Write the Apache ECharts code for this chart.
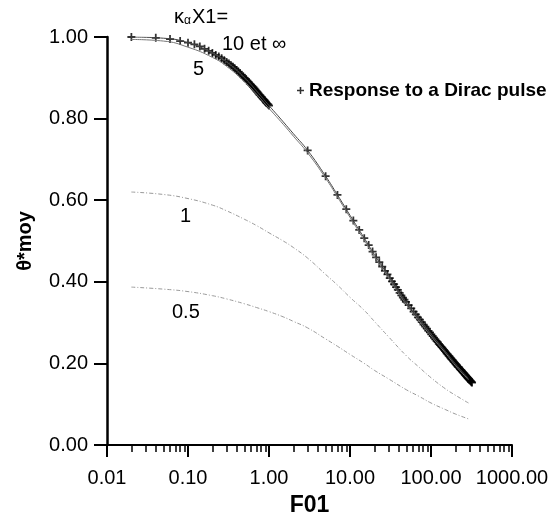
<!DOCTYPE html>
<html>
<head>
<meta charset="utf-8">
<script src="https://cdn.jsdelivr.net/npm/echarts@6/dist/echarts.min.js"></script>
<style>
  html, body { margin: 0; padding: 0; background: #fff; }
  #chart { width: 558px; height: 519px; }
</style>
</head>
<body>
<div id="chart"></div>
<script>
// Response to a Dirac pulse: sampled F01 values (markers)
const diracF = [
  0.02, 0.04, 0.06, 0.08, 0.10, 0.12, 0.14, 0.16, 0.18, 0.20,
  0.22, 0.24, 0.26, 0.28, 0.30, 0.32, 0.34, 0.36, 0.38, 0.40,
  0.42, 0.44, 0.46, 0.48, 0.50, 0.52, 0.54, 0.56, 0.58, 0.60,
  0.62, 0.64, 0.66, 0.68, 0.70, 0.72, 0.74, 0.76, 0.78, 0.80,
  0.82, 0.84, 0.86, 0.88, 0.90, 0.92, 0.94, 0.96, 0.98, 1.00,
  3, 5, 7, 9, 11, 13, 15, 17, 19, 21, 23, 25, 27, 29, 31, 33, 35, 37, 39, 41, 43, 45, 47, 49,
  53, 57, 61, 65, 69, 73, 77, 81, 85, 89, 93, 97, 101, 105, 109, 113, 117, 121, 125, 129,
  133, 137, 141, 145, 149, 153, 157, 161, 165, 169, 173, 177, 181, 185, 189, 193, 197, 201,
  205, 209, 213, 217, 221, 225, 229, 233, 237, 241, 245, 249, 253, 257, 261, 265, 269, 273,
  277, 281, 285, 289, 293, 297, 301, 305, 309, 313, 317, 321
];
const diracTheta = [
  1.000, 0.998, 0.995, 0.990, 0.986, 0.982, 0.977, 0.971, 0.966, 0.961,
  0.956, 0.952, 0.948, 0.943, 0.939, 0.935, 0.931, 0.927, 0.923, 0.919,
  0.915, 0.911, 0.907, 0.903, 0.900, 0.897, 0.893, 0.890, 0.886, 0.883,
  0.880, 0.877, 0.874, 0.871, 0.868, 0.865, 0.862, 0.859, 0.857, 0.854,
  0.852, 0.849, 0.847, 0.845, 0.842, 0.840, 0.838, 0.836, 0.834, 0.832,
  0.722, 0.659, 0.613, 0.578, 0.550, 0.527, 0.507, 0.490, 0.474, 0.460, 0.448, 0.437, 0.427, 0.418,
  0.409, 0.401, 0.394, 0.387, 0.380, 0.373, 0.367, 0.361, 0.356, 0.351,
  0.343, 0.335, 0.327, 0.320, 0.313, 0.307, 0.301, 0.295, 0.290, 0.285, 0.280, 0.276, 0.271, 0.267,
  0.263, 0.259, 0.255, 0.252, 0.248, 0.245,
  0.242, 0.239, 0.236, 0.233, 0.230, 0.227, 0.224, 0.222, 0.219, 0.217, 0.214, 0.212, 0.210, 0.208,
  0.205, 0.203, 0.201, 0.199,
  0.197, 0.195, 0.193, 0.191, 0.190, 0.188, 0.186, 0.184, 0.183, 0.181, 0.179, 0.178, 0.176, 0.175,
  0.173, 0.172, 0.170, 0.169,
  0.167, 0.166, 0.164, 0.163, 0.162, 0.160, 0.159, 0.158, 0.157, 0.155, 0.154, 0.153
];

// Model curves for several values of kappa*X1
const curveF = [0.02, 0.05, 0.1, 0.2, 0.3, 0.5, 0.7, 1, 1.5, 2, 3, 5, 7, 10, 15, 20, 30, 50, 70, 100, 150, 200, 290];
const theta10 = [1.000, 0.997, 0.986, 0.961, 0.939, 0.900, 0.868, 0.832, 0.792, 0.763, 0.722, 0.659, 0.613, 0.563, 0.507, 0.467, 0.414, 0.348, 0.311, 0.272, 0.230, 0.199, 0.163];
const theta5  = [0.994, 0.990, 0.975, 0.950, 0.928, 0.890, 0.860, 0.825, 0.786, 0.757, 0.716, 0.654, 0.608, 0.558, 0.502, 0.462, 0.409, 0.343, 0.306, 0.267, 0.226, 0.195, 0.160];
const theta1  = [0.620, 0.614, 0.604, 0.588, 0.574, 0.553, 0.538, 0.520, 0.500, 0.484, 0.458, 0.418, 0.392, 0.362, 0.330, 0.303, 0.265, 0.218, 0.192, 0.165, 0.138, 0.122, 0.103];
const theta05 = [0.387, 0.382, 0.376, 0.366, 0.358, 0.346, 0.337, 0.327, 0.314, 0.303, 0.287, 0.260, 0.242, 0.222, 0.200, 0.183, 0.162, 0.135, 0.120, 0.103, 0.087, 0.076, 0.064];

// Axis tick labels
const xTickValues = [0.01, 0.1, 1, 10, 100, 1000];
const yTickValues = [0, 0.2, 0.4, 0.6, 0.8, 1.0];

const pairs = (xs, ys) => xs.map((x, i) => [x, ys[i]]);

// minor ticks of the logarithmic F01 axis (2..9 in every decade)
const minorTicks = [];
for (let d = -2; d < 3; d++) {
  for (let k = 2; k <= 9; k++) minorTicks.push(+(k * Math.pow(10, d)).toPrecision(3));
}

const FONT = '"Liberation Sans", Arial, Helvetica, sans-serif';
const PLUS = 'path://M3.9,0H6.1V3.9H10V6.1H6.1V10H3.9V6.1H0V3.9H3.9Z';

const chart = echarts.init(document.getElementById('chart'), null, { renderer: 'canvas' });

chart.setOption({
  animation: false,
  backgroundColor: '#ffffff',
  grid: { left: 107, right: 46, top: 37, bottom: 74, outerBoundsMode: 'none', containLabel: false },
  legend: {
    data: [{ name: 'Response to a Dirac pulse', icon: PLUS }],
    left: 292, top: 76,
    itemWidth: 7, itemHeight: 7, itemGap: 6,
    textStyle: { fontFamily: FONT, fontWeight: 'bold', fontSize: 19, color: '#000' }
  },
  xAxis: [
    {
      type: 'log', logBase: 10, min: 0.01, max: 1000,
      name: 'F01', nameLocation: 'middle', nameGap: 49,
      nameTextStyle: { fontFamily: FONT, fontWeight: 'bold', fontSize: 23, color: '#000' },
      axisLine: { lineStyle: { color: '#000', width: 2 } },
      axisTick: { inside: false, length: 12, lineStyle: { color: '#000', width: 2 }, customValues: xTickValues },
      axisLabel: {
        customValues: xTickValues,
        margin: 23, fontFamily: FONT, fontSize: 20, color: '#000',
        formatter: v => Number(v).toFixed(2)
      },
      splitLine: { show: false }
    },
    {
      type: 'log', logBase: 10, min: 0.01, max: 1000, position: 'bottom',
      axisLine: { show: false },
      axisTick: { inside: false, length: 7, lineStyle: { color: '#000', width: 1.5 }, customValues: minorTicks },
      axisLabel: { show: false },
      splitLine: { show: false }
    }
  ],
  yAxis: {
    type: 'value', min: 0, max: 1, interval: 0.2,
    name: 'θ*moy', nameLocation: 'middle', nameGap: 72, nameRotate: 90,
    nameTextStyle: { fontFamily: FONT, fontWeight: 'bold', fontSize: 20, color: '#000' },
    axisLine: { show: true, lineStyle: { color: '#000', width: 2.5 } },
    axisTick: { show: true, inside: false, length: 13, lineStyle: { color: '#000', width: 2 } },
    axisLabel: {
      margin: 19, fontFamily: FONT, fontSize: 20, color: '#000',
      formatter: v => Number(v).toFixed(2)
    },
    splitLine: { show: false }
  },
  series: [
    {
      name: 'κX1 = 0.5', type: 'line', xAxisIndex: 0, data: pairs(curveF, theta05),
      showSymbol: false, smooth: true, silent: true,
      lineStyle: { color: '#9a9a9a', width: 1, type: [4, 2, 1, 2] }
    },
    {
      name: 'κX1 = 1', type: 'line', xAxisIndex: 0, data: pairs(curveF, theta1),
      showSymbol: false, smooth: true, silent: true,
      lineStyle: { color: '#9a9a9a', width: 1, type: [4, 2, 1, 2] }
    },
    {
      name: 'κX1 = 5', type: 'line', xAxisIndex: 0, data: pairs(curveF, theta5),
      showSymbol: false, smooth: true, silent: true,
      lineStyle: { color: '#777', width: 1 }
    },
    {
      name: 'κX1 = 10 et ∞', type: 'line', xAxisIndex: 0, data: pairs(curveF, theta10),
      showSymbol: false, smooth: true, silent: true,
      lineStyle: { color: '#444', width: 1 }
    },
    {
      name: 'Response to a Dirac pulse', type: 'scatter', xAxisIndex: 0,
      data: pairs(diracF, diracTheta),
      symbol: PLUS, symbolSize: 8,
      itemStyle: { color: '#000' }
    }
  ],
  graphic: [
    {
      type: 'text', left: 174, top: 7,
      style: {
        text: '{k|κ}{s|α}{k|X1=}',
        rich: {
          k: { fontFamily: FONT, fontSize: 20, fill: '#000' },
          s: { fontFamily: FONT, fontSize: 12, fill: '#000', verticalAlign: 'bottom', padding: [6, 1, 0, 0] }
        }
      }
    },
    { type: 'text', left: 222, top: 34, style: { text: '10 et ∞', fontFamily: FONT, fontSize: 20, fill: '#000' } },
    { type: 'text', left: 193, top: 59, style: { text: '5', fontFamily: FONT, fontSize: 20, fill: '#000' } },
    { type: 'text', left: 180, top: 206, style: { text: '1', fontFamily: FONT, fontSize: 20, fill: '#000' } },
    { type: 'text', left: 172, top: 302, style: { text: '0.5', fontFamily: FONT, fontSize: 20, fill: '#000' } }
  ]
});
</script>
</body>
</html>
